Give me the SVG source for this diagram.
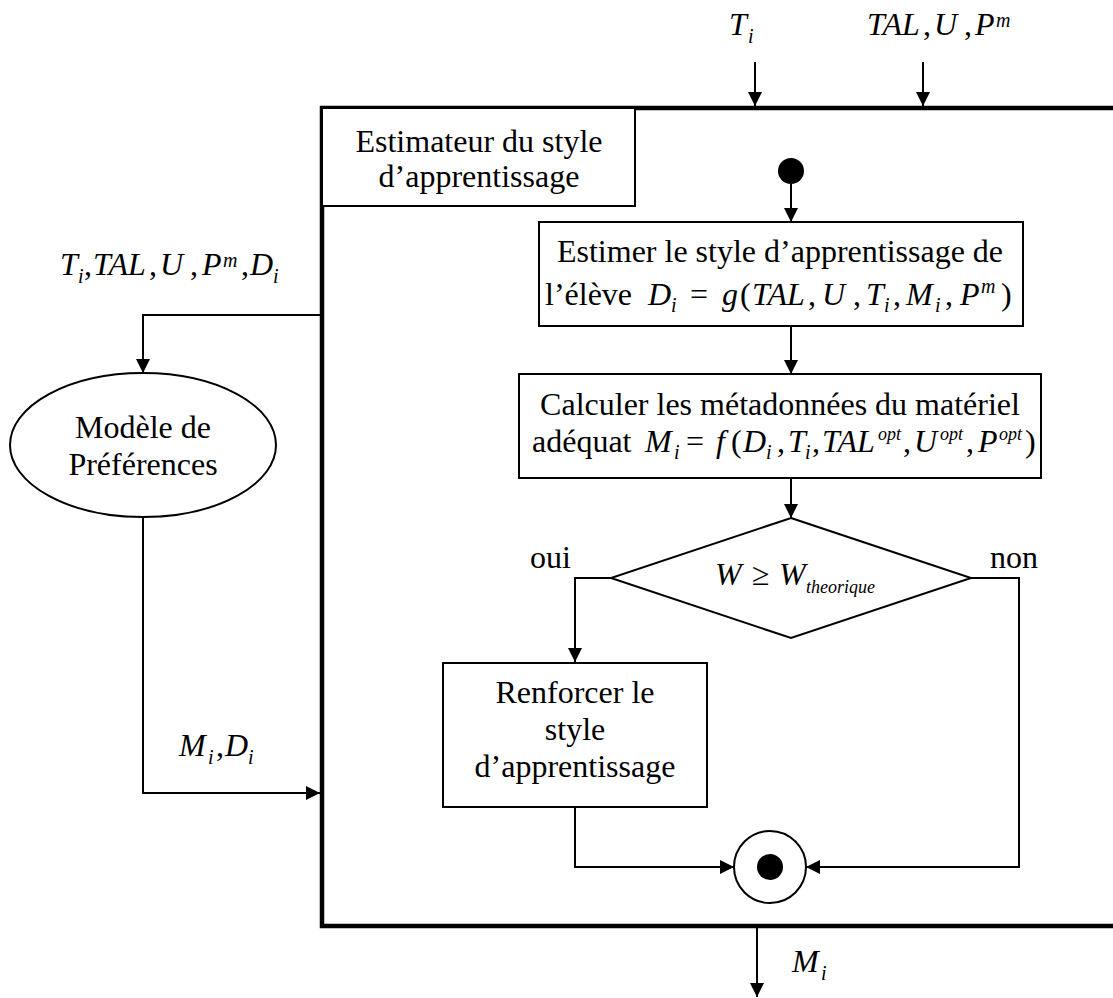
<svg xmlns="http://www.w3.org/2000/svg" width="1113" height="998" viewBox="0 0 1113 998">
<style>
text{font-family:'Liberation Serif','Times New Roman',Tinos,'DejaVu Serif',serif;font-size:32px;fill:#000}
.i{font-style:italic}
.s{font-style:italic;font-size:20px}
.o{font-style:italic;font-size:18px}
.box{fill:#fff;stroke:#000;stroke-width:2}
.ln{fill:none;stroke:#000;stroke-width:2}
</style>
<defs>
<marker id="ah" viewBox="0 0 14 14" refX="14" refY="7" markerWidth="14" markerHeight="14" markerUnits="userSpaceOnUse" orient="auto"><path d="M0,0 L14,7 L0,14 z" fill="#000"/></marker>
</defs>
<rect width="1113" height="998" fill="#fff"/>

<g id="main-frame">
<path d="M1115,108 H322 V926 H1115" fill="none" stroke="#000" stroke-width="4.5"/>
</g>

<g id="title">
<rect class="box" x="322" y="108" width="313" height="98"/>
<text x="479" y="152" text-anchor="middle">Estimateur du style</text>
<text x="479" y="187" text-anchor="middle">d’apprentissage</text>
</g>

<g id="connectors">
<path class="ln" d="M755,62 V106" marker-end="url(#ah)"/>
<path class="ln" d="M923,62 V106" marker-end="url(#ah)"/>
<path class="ln" d="M791,184 V222" marker-end="url(#ah)"/>
<path class="ln" d="M791,326 V374" marker-end="url(#ah)"/>
<path class="ln" d="M791,478 V518" marker-end="url(#ah)"/>
<path class="ln" d="M611,578 H575 V662" marker-end="url(#ah)"/>
<path class="ln" d="M971,578 H1019 V867 H806" marker-end="url(#ah)"/>
<path class="ln" d="M575,807 V867 H734" marker-end="url(#ah)"/>
<path class="ln" d="M757,928 V997" marker-end="url(#ah)"/>
<path class="ln" d="M320,315 H143 V373" marker-end="url(#ah)"/>
<path class="ln" d="M143,518 V793 H320" marker-end="url(#ah)"/>
</g>

<g id="labels">
<text><tspan class="i" x="729" y="35">T</tspan><tspan class="s" x="748" y="43">i</tspan></text>
<text><tspan class="i" x="867" y="35">TAL</tspan><tspan x="923" y="35">,</tspan><tspan class="i" x="934" y="35">U</tspan><tspan x="964" y="35">,</tspan><tspan class="i" x="975" y="35">P</tspan><tspan class="s" x="996" y="27">m</tspan></text>
<text><tspan class="i" x="60" y="275">T</tspan><tspan class="s" x="78" y="283">i</tspan><tspan x="84" y="275">,</tspan><tspan class="i" x="93" y="275">TAL</tspan><tspan x="149" y="275">,</tspan><tspan class="i" x="160" y="275">U</tspan><tspan x="190" y="275">,</tspan><tspan class="i" x="202" y="275">P</tspan><tspan class="s" x="223" y="267">m</tspan><tspan x="241" y="275">,</tspan><tspan class="i" x="250" y="275">D</tspan><tspan class="s" x="273" y="283">i</tspan></text>
<text><tspan class="i" x="179" y="756">M</tspan><tspan class="s" x="208" y="764">i</tspan><tspan x="216" y="756">,</tspan><tspan class="i" x="225" y="756">D</tspan><tspan class="s" x="248" y="764">i</tspan></text>
<text><tspan class="i" x="792" y="972">M</tspan><tspan class="s" x="821" y="980">i</tspan></text>
<text x="530" y="568">oui</text>
<text x="990" y="568">non</text>
</g>

<g id="start">
<circle cx="791" cy="171" r="13" fill="#000"/>
</g>

<g id="estimer">
<rect class="box" x="539" y="222" width="484" height="104"/>
<text x="780" y="262" text-anchor="middle">Estimer le style d’apprentissage de</text>
<text><tspan x="545" y="305">l’élève</tspan><tspan class="i" x="648" y="305">D</tspan><tspan class="s" x="671" y="312">i</tspan><tspan x="690" y="305">=</tspan><tspan class="i" x="722" y="305">g</tspan><tspan x="740" y="305">(</tspan><tspan class="i" x="752" y="305">TAL</tspan><tspan x="808" y="305">,</tspan><tspan class="i" x="822" y="305">U</tspan><tspan x="853" y="305">,</tspan><tspan class="i" x="866" y="305">T</tspan><tspan class="s" x="884" y="312">i</tspan><tspan x="893" y="305">,</tspan><tspan class="i" x="906" y="305">M</tspan><tspan class="s" x="935" y="312">i</tspan><tspan x="945" y="305">,</tspan><tspan class="i" x="960" y="305">P</tspan><tspan class="s" x="981" y="293">m</tspan><tspan x="1001" y="305">)</tspan></text>
</g>

<g id="calculer">
<rect class="box" x="519" y="374" width="522" height="104"/>
<text x="780" y="415" text-anchor="middle">Calculer les métadonnées du matériel</text>
<text><tspan x="532" y="452">adéquat</tspan><tspan class="i" x="645" y="452">M</tspan><tspan class="s" x="674" y="459">i</tspan><tspan x="686" y="452">=</tspan><tspan class="i" x="716" y="452">f</tspan><tspan x="731" y="452">(</tspan><tspan class="i" x="743" y="452">D</tspan><tspan class="s" x="766" y="459">i</tspan><tspan x="777" y="452">,</tspan><tspan class="i" x="788" y="452">T</tspan><tspan class="s" x="805" y="459">i</tspan><tspan x="812" y="452">,</tspan><tspan class="i" x="822" y="452">TAL</tspan><tspan class="o" x="878" y="440">opt</tspan><tspan x="903" y="452">,</tspan><tspan class="i" x="914" y="452">U</tspan><tspan class="o" x="940" y="440">opt</tspan><tspan x="966" y="452">,</tspan><tspan class="i" x="978" y="452">P</tspan><tspan class="o" x="999" y="440">opt</tspan><tspan x="1025" y="452">)</tspan></text>
</g>

<g id="decision">
<polygon points="791,518 971,578 791,638 611,578" fill="#fff" stroke="#000" stroke-width="2"/>
<text><tspan class="i" x="715" y="585">W</tspan><tspan x="752" y="585">≥</tspan><tspan class="i" x="779" y="585">W</tspan><tspan class="o" x="806" y="593">theorique</tspan></text>
</g>

<g id="renforcer">
<rect class="box" x="443" y="663" width="264" height="144"/>
<text x="575" y="703" text-anchor="middle">Renforcer le</text>
<text x="575" y="740" text-anchor="middle">style</text>
<text x="575" y="777" text-anchor="middle">d’apprentissage</text>
</g>

<g id="end">
<circle cx="770" cy="867" r="36" fill="#fff" stroke="#000" stroke-width="2"/>
<circle cx="770" cy="867" r="13" fill="#000"/>
</g>

<g id="preferences">
<ellipse cx="143" cy="445" rx="133" ry="72" fill="#fff" stroke="#000" stroke-width="2"/>
<text x="143" y="438" text-anchor="middle">Modèle de</text>
<text x="143" y="475" text-anchor="middle">Préférences</text>
</g>
</svg>
